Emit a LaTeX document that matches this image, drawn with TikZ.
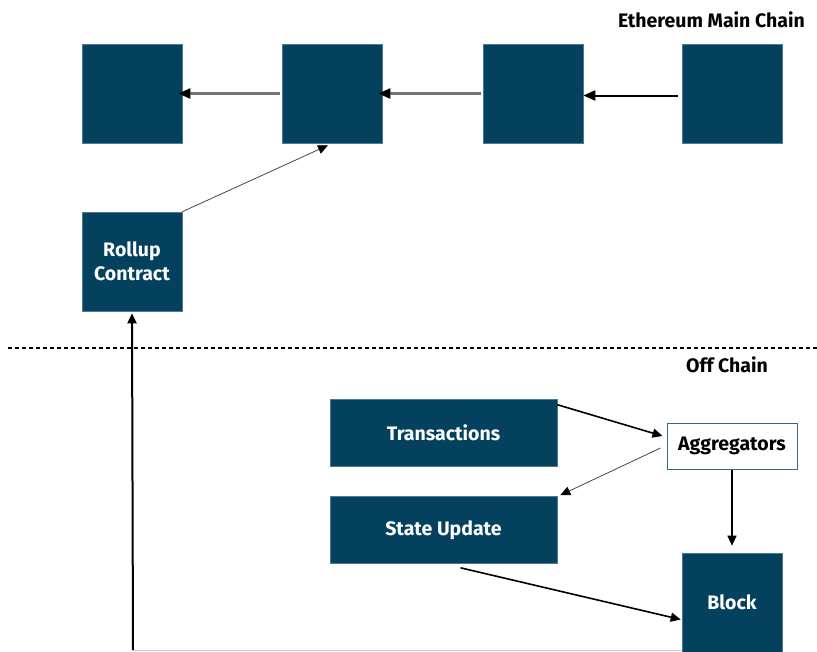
\documentclass[tikz,border=0pt]{standalone}
\usepackage{fontspec}
\setmainfont{Fira Sans}
\usetikzlibrary{arrows.meta}
\definecolor{teal}{RGB}{3,65,94}
\definecolor{thinline}{RGB}{70,70,70}
\definecolor{grayline}{RGB}{115,115,115}
\tikzset{
  txt/.style={font=\fontsize{19.5}{24}\selectfont\bfseries},
  blk/.style={txt, fill=teal, draw=teal!70!white, line width=0.6pt, minimum width=100pt, minimum height=99pt, inner sep=0pt, text=white, align=center},
  wide/.style={blk, minimum width=227pt, minimum height=67pt},
  agg/.style={txt, fill=white, draw=teal!80!white, line width=1pt, minimum width=130pt, minimum height=46pt, inner sep=0pt},
  lbl/.style={txt, anchor=east, inner sep=0pt},
  arr/.style={-{Triangle[length=10pt,width=9pt]}, line width=1.6pt},
  toparr/.style={-{Triangle[length=12pt,width=10pt,color=black]}, line width=2.3pt},
  thinarr/.style={-{Triangle[length=10pt,width=9pt,color=black]}, line width=0.8pt, draw=thinline},
}
\begin{document}
\begin{tikzpicture}[x=1pt,y=-1pt]
\useasboundingbox (0,0) rectangle (817,651);
\node[blk] (b1) at (132,93.5) {};
\node[blk] (b2) at (332,93.5) {};
\node[blk] (b3) at (533,93.5) {};
\node[blk] (b4) at (732,93.5) {};
\node[blk] (rc) at (132,261.5) {Rollup\\Contract};
\node[lbl] (eth) at (805,20) {Ethereum Main Chain};
\node[lbl] (off) at (768,365) {Off Chain};
\node[wide] (tx) at (443.5,432.5) {Transactions};
\node[wide] (su) at (443.5,530) {State Update};
\node[agg] (ag) at (732,446) {Aggregators};
\node[blk] (bk) at (732,602.5) {Block};
\coordinate (dl) at (8,348);
\coordinate (dr) at (817,348);
\draw[dashed, dash pattern=on 4pt off 3pt, line width=1.2pt] (dl) -- (dr);
\draw[toparr, draw=grayline] ([xshift=-2pt]b2.west) -- ([xshift=-4pt]b1.east);
\draw[toparr, draw=grayline] ([xshift=-2pt]b3.west) -- ([xshift=-4pt]b2.east);
\draw[toparr, draw=black, line width=2pt] ([xshift=-4pt,yshift=-2pt]b4.west) -- ([yshift=-2pt]b3.east);
\draw[thinarr] (rc.north east) -- ([xshift=-4pt,yshift=-2pt]b2.south);
\draw[arr] ([yshift=-6pt]tx.north east) -- ([xshift=-4pt,yshift=10pt]ag.west);
\draw[thinarr] ([xshift=-6pt,yshift=-2pt]ag.west) -- ([xshift=3pt,yshift=1pt]su.north east);
\draw[arr, line width=1.2pt] (ag.south) -- ([yshift=7pt]bk.north);
\draw[arr] ([xshift=17pt,yshift=-4pt]su.south) -- ([xshift=-1pt,yshift=-17pt]bk.west);
\coordinate (bl) at (133,650);
\draw[line width=0.6pt, draw=black!20] (bk.south west |- bl) -- (bl);
\draw[arr, line width=2pt] (bl) -- ([yshift=-2pt]rc.south);
\end{tikzpicture}
\end{document}
